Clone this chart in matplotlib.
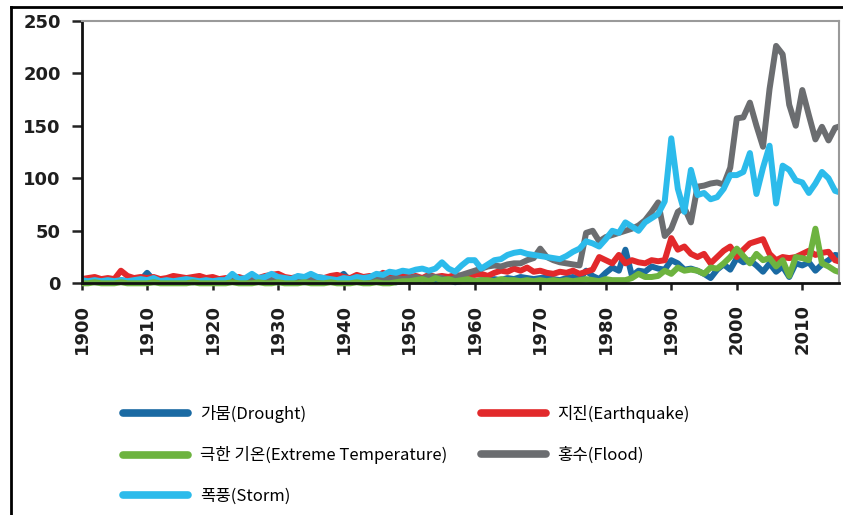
import matplotlib
matplotlib.use("Agg")
import matplotlib.pyplot as plt
from matplotlib.lines import Line2D
from matplotlib.patches import Rectangle

# Number of reported natural disasters per year, 1900-2016
years = list(range(1900, 2017))

drought = [
    2, 1, 2, 1, 2, 1, 3, 2, 1, 3,
    10, 3, 2, 1, 2, 1, 2, 1, 2, 1,
    2, 1, 2, 3, 1, 2, 1, 2, 3, 2,
    1, 2, 1, 2, 1, 2, 3, 1, 2, 4,
    9, 2, 3, 1, 2, 2, 3, 2, 1, 2,
    3, 2, 4, 2, 3, 2, 3, 1, 2, 3,
    2, 3, 2, 4, 3, 5, 4, 6, 5, 4,
    5, 6, 4, 3, 5, 6, 4, 12, 7, 4,
    10, 15, 12, 32, 7, 12, 11, 16, 14, 13,
    22, 19, 13, 14, 12, 9, 5, 13, 18, 13,
    24, 20, 22, 17, 11, 19, 11, 16, 6, 19,
    17, 20, 12, 18, 22, 27, 26,
]

earthquake = [
    4, 5, 6, 4, 5, 4, 12, 7, 5, 6,
    5, 6, 4, 5, 7, 6, 5, 6, 7, 5,
    6, 4, 5, 5, 6, 4, 6, 5, 7, 8,
    9, 6, 5, 6, 4, 5, 6, 5, 7, 8,
    6, 5, 8, 6, 7, 5, 10, 7, 6, 8,
    6, 7, 5, 8, 6, 7, 6, 8, 7, 8,
    8, 9, 7, 10, 12, 11, 14, 12, 15, 11,
    12, 10, 9, 11, 10, 12, 9, 11, 13, 25,
    22, 19, 27, 19, 22, 20, 19, 22, 21, 22,
    43, 32, 35, 28, 25, 28, 19, 25, 31, 35,
    25, 32, 38, 40, 42, 28, 22, 25, 24, 25,
    28, 31, 27, 29, 30, 22, 20,
]

extreme_temp = [
    0, 0, 1, 0, 0, 0, 1, 0, 0, 0,
    0, 1, 0, 0, 0, 0, 0, 1, 0, 0,
    0, 0, 0, 1, 0, 0, 0, 1, 0, 0,
    1, 0, 0, 0, 1, 0, 0, 0, 1, 0,
    0, 0, 1, 0, 0, 1, 0, 0, 1, 2,
    2, 3, 4, 2, 5, 3, 4, 2, 3, 4,
    2, 3, 3, 2, 4, 3, 3, 2, 3, 2,
    3, 2, 3, 2, 3, 2, 3, 4, 3, 2,
    4, 3, 3, 3, 5, 9, 6, 6, 7, 12,
    9, 15, 12, 13, 12, 9, 15, 14, 19, 25,
    33, 26, 19, 28, 22, 24, 16, 22, 7, 25,
    24, 22, 52, 19, 16, 12, 10,
]

flood = [
    1, 2, 1, 1, 2, 1, 2, 1, 1, 2,
    1, 1, 2, 1, 1, 2, 1, 1, 2, 1,
    1, 2, 1, 2, 3, 2, 2, 3, 2, 3,
    2, 3, 2, 3, 2, 3, 2, 4, 3, 2,
    2, 3, 2, 3, 2, 4, 3, 4, 5, 4,
    5, 6, 4, 7, 6, 5, 3, 5, 8, 10,
    12, 14, 16, 17, 16, 18, 19, 19, 22, 24,
    33, 25, 22, 20, 19, 18, 17, 48, 50, 40,
    44, 46, 48, 50, 52, 55, 60, 68, 77, 45,
    52, 68, 72, 58, 92, 93, 95, 96, 94, 110,
    157, 158, 172, 150, 130, 185, 226, 218, 170, 150,
    184, 160, 137, 149, 136, 148, 150,
]

storm = [
    3, 2, 3, 2, 3, 2, 3, 2, 3, 4,
    3, 5, 2, 3, 2, 3, 4, 3, 2, 3,
    2, 3, 3, 9, 4, 5, 9, 5, 6, 9,
    6, 5, 4, 7, 6, 9, 6, 5, 4, 3,
    5, 4, 6, 5, 6, 9, 8, 11, 10, 12,
    11, 13, 14, 12, 14, 20, 14, 11, 17, 22,
    22, 14, 18, 22, 23, 27, 29, 30, 28, 27,
    26, 25, 24, 23, 26, 30, 33, 40, 38, 35,
    42, 50, 48, 58, 54, 50, 58, 62, 66, 78,
    138, 90, 68, 108, 84, 86, 80, 82, 90, 103,
    103, 106, 124, 85, 110, 131, 76, 112, 108, 98,
    96, 86, 95, 106, 100, 88, 86,
]

labels = {
    "drought": "가뭄(Drought)",
    "earthquake": "지진(Earthquake)",
    "extreme": "극한 기온(Extreme Temperature)",
    "flood": "홍수(Flood)",
    "storm": "폭풍(Storm)",
}
colors = {
    "drought": "#1a6aa3",
    "earthquake": "#e2292b",
    "extreme": "#6db33f",
    "flood": "#6b6d70",
    "storm": "#2cbbeb",
}
series = {
    "drought": drought,
    "earthquake": earthquake,
    "flood": flood,
    "storm": storm,
    "extreme": extreme_temp,
}

W, H = 843, 515
fig = plt.figure(figsize=(W / 100, H / 100), dpi=100)

ax_left, ax_right, ax_top, ax_bottom = 81.6, 839.0, 20.7, 283.3
ax = fig.add_axes([ax_left / W, 1 - ax_bottom / H,
                   (ax_right - ax_left) / W, (ax_bottom - ax_top) / H])

# Let the thick lines spill a little below the zero baseline
clip_box = Rectangle((0, -0.03), 1, 1.06, transform=ax.transAxes,
                     facecolor="none", edgecolor="none")
for key, vals in series.items():
    ln, = ax.plot(years, vals, color=colors[key], lw=4.3,
                  solid_joinstyle="round", solid_capstyle="round")
    ln.set_clip_path(clip_box)

ax.set_xlim(1900, 2015.6)
ax.set_ylim(0, 250)
ax.set_xticks(range(1900, 2011, 10))
ax.set_yticks(range(0, 251, 50))

tick_font = dict(family="DejaVu Sans", weight="bold", size=13)
ax.set_xticklabels([str(y) for y in range(1900, 2011, 10)],
                   rotation=90, color="#1e1e1e", **tick_font)
ax.set_yticklabels([str(v) for v in range(0, 251, 50)],
                   color="#1e1e1e", **tick_font)
ax.tick_params(axis="y", direction="out", length=7, width=1.8,
               color="#222222", pad=8)
ax.tick_params(axis="x", direction="out", length=5, width=1.8,
               color="#222222", pad=10)

for side in ("left", "bottom"):
    ax.spines[side].set_color("#111111")
    ax.spines[side].set_linewidth(2.0)
for side in ("top", "right"):
    ax.spines[side].set_color("#9a9a9a")
    ax.spines[side].set_linewidth(1.5)

# Legend: two columns, filled row by row
order = ["drought", "extreme", "storm", "earthquake", "flood"]
handles = [Line2D([], [], color=colors[k], lw=5.5, solid_capstyle="round")
           for k in order]
fig.legend(handles, [labels[k] for k in order], ncol=2, frameon=False,
           loc="upper left", bbox_to_anchor=(123 / W, 1 - 405 / H),
           borderpad=0, borderaxespad=0, handlelength=3.9,
           handletextpad=0.72, columnspacing=2.0, labelspacing=1.4,
           prop=dict(family=["Noto Sans CJK KR", "DejaVu Sans"], size=12))

# Outer frame around the figure (left and top edges)
fig.add_artist(Line2D([10.5 / W, 10.5 / W], [0, 1 - 6.5 / H],
                      transform=fig.transFigure, color="black", lw=2))
fig.add_artist(Line2D([10.5 / W, 1], [1 - 6.5 / H, 1 - 6.5 / H],
                      transform=fig.transFigure, color="black", lw=2))

fig.savefig("out.png", dpi=100)
